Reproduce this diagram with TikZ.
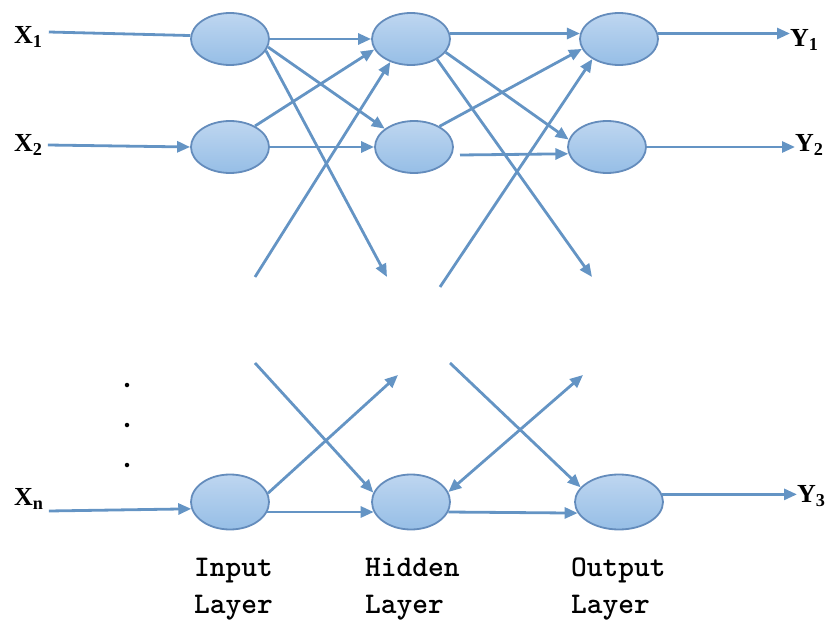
\documentclass[tikz,border=0pt]{standalone}
\usepackage{fontspec}
\setmainfont{Liberation Serif}
\usetikzlibrary{arrows.meta,shapes.geometric}
\definecolor{lc}{RGB}{100,148,196}
\definecolor{nb}{RGB}{100,140,188}
\definecolor{ntop}{RGB}{190,214,240}
\definecolor{nbot}{RGB}{150,190,230}
\begin{document}
\begin{tikzpicture}[x=1pt,y=-1pt,
  neuron/.style={ellipse, draw=nb, line width=1.8pt, top color=ntop, bottom color=nbot,
    minimum width=78pt, minimum height=52pt, inner sep=0pt},
  conn/.style={draw=lc, line width=2.8pt, -{Triangle[length=13pt,width=11pt]}},
  both/.style={draw=lc, line width=2.8pt, {Triangle[length=13pt,width=11pt]}-{Triangle[length=13pt,width=11pt]}},
  plain/.style={draw=lc, line width=2.8pt},
  lbl/.style={font=\bfseries\fontsize{26}{28}\selectfont, inner sep=0pt, anchor=west},
  layer/.style={font=\ttfamily\bfseries\fontsize{30}{37}\selectfont, align=left, anchor=north west, inner sep=0pt},
  dotnode/.style={circle, fill=black, inner sep=0pt, minimum size=4.5pt}]
\useasboundingbox (0,0) rectangle (828,623);

% neurons
\node[neuron] (I1) at (230,39) {};
\node[neuron] (I2) at (230,147) {};
\node[neuron, minimum height=55pt] (In) at (230,502) {};
\node[neuron] (H1) at (411,39) {};
\node[neuron] (H2) at (414,147) {};
\node[neuron, minimum height=55pt] (Hn) at (411,502) {};
\node[neuron] (O1) at (619,39) {};
\node[neuron] (O2) at (607,147) {};
\node[neuron, minimum width=88pt, minimum height=55pt] (On) at (619,502) {};

% labels
\node[lbl] (X1) at (14,37) {X\textsubscript{1}};
\node[lbl] (X2) at (14,145) {X\textsubscript{2}};
\node[lbl] (Xn) at (14,499) {X\textsubscript{n}};
\node[lbl] (Y1) at (790,40) {Y\textsubscript{1}};
\node[lbl] (Y2) at (795,145) {Y\textsubscript{2}};
\node[lbl] (Y3) at (797,496) {Y\textsubscript{3}};

\node[layer] (LI) at (194,558) {Input\\Layer};
\node[layer] (LH) at (365,558) {Hidden\\Layer};
\node[layer] (LO) at (571,558) {Output\\Layer};

\node[dotnode] (d1) at (127,385) {};
\node[dotnode] (d2) at (127,425) {};
\node[dotnode] (d3) at (127,465) {};

% stub coordinates
\coordinate (s1) at (387,277);
\coordinate (s2) at (255,277);
\coordinate (s3) at (592,277);
\coordinate (s4) at (460,155);
\coordinate (s5) at (440,287);
\coordinate (s6) at (255,363);
\coordinate (s7) at (398,375);
\coordinate (s8) at (450,363);
\coordinate (s9) at (583,375);

% inputs
\draw[plain] (X1.east) ++(6,-5) coordinate (x1s) -- (I1.175);
\draw[conn] (X2.east) ++(5,0) coordinate (x2s) -- (I2.west);
\draw[conn] (Xn.east) ++(5,12) coordinate (xns) -- (In.190);

% input -> hidden
\draw[conn] (I1.east) -- (H1.west);
\draw[conn] (I1.-12) -- (H2.148);
\draw[conn] (I1.-18) -- (s1);
\draw[conn] (I2.40) -- (H1.196);
\draw[conn] (I2.east) -- (H2.west);
\draw[conn] (s2) -- (H1.228);
\draw[conn] (s6) -- (Hn.166);
\draw[conn] (In.13) -- (s7);
\draw[conn] (In.-15) -- (Hn.195);

% hidden -> output
\draw[conn] (H1.8) -- (O1.172);
\draw[conn] (H1.-21) -- (O2.169);
\draw[conn] (H1.-38) -- (s3);
\draw[conn] (H2.39) -- (O1.195);
\draw[conn] (s4) -- (O2.190);
\draw[conn] (s5) -- (O1.217);
\draw[conn] (s8) -- (On.159);
\draw[both] (Hn.15) -- (s9);
\draw[conn] (Hn.-15) -- (On.195);

% outputs
\draw[conn] (O1.8) -- (Y1.west |- O1.8);
\draw[conn] (O2.east) -- (Y2.west |- O2.east);
\draw[conn] (On.10) -- (Y3.west |- On.10);
\end{tikzpicture}
\end{document}
